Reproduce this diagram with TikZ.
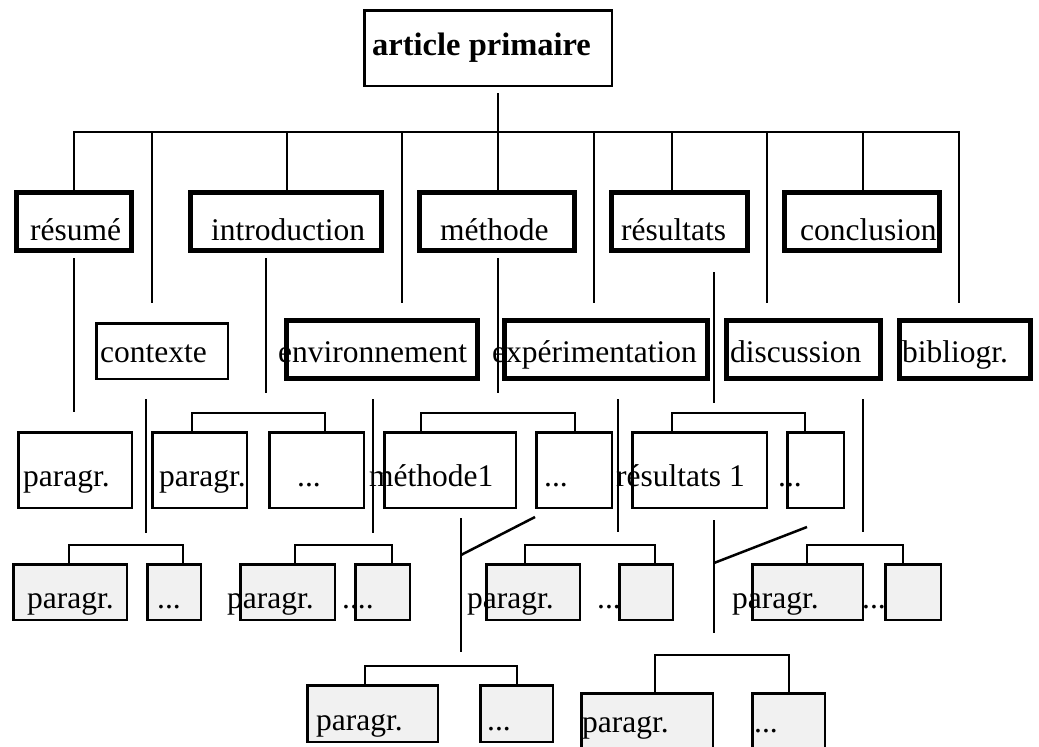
\documentclass[tikz,border=0pt]{standalone}
\usepackage{fontspec}
\setmainfont{Liberation Serif}
\definecolor{boxfill}{RGB}{241,241,241}
\tikzset{
  thinbox/.style={draw, line width=2.5pt, inner sep=0pt},
  thickbox/.style={draw, line width=5pt, inner sep=0pt},
  fillbox/.style={draw, line width=2.5pt, fill=boxfill, inner sep=0pt},
  lbl/.style={anchor=base west, inner sep=0pt, font=\fontsize{31.5}{36}\selectfont},
  titlelbl/.style={anchor=base west, inner sep=0pt, font=\fontsize{32.5}{38}\selectfont\bfseries},
  conn/.style={line width=2.5pt, line join=miter},
}
% box from outer edges: style, name, x1, y1, x2, y2, line width
\newcommand\mkbox[7]{%
  \pgfmathsetmacro\mybw{#5-#3-#7}%
  \pgfmathsetmacro\mybh{#6-#4-#7}%
  \node[#1, minimum width=\mybw pt, minimum height=\mybh pt] (#2) at ({(#3+#5)/2},{(#4+#6)/2}) {};
}
% bracket: x1, x2, bar y, bottom y
\newcommand\mkbracket[4]{\draw[conn] (#1,#4) -- (#1,#3) -- (#2,#3) -- (#2,#4);}
\begin{document}
\begin{tikzpicture}[x=1pt,y=-1pt]
\useasboundingbox (0,0) rectangle (1039,747);
\clip (0,0) rectangle (1039,747);
\fill[white] (0,0) rectangle (1039,747);

% ---------- boxes ----------
\mkbox{thinbox}{top}{363}{9}{613}{87}{2.5}
% row 1
\mkbox{thickbox}{resume}{14}{190}{134}{253}{5}
\mkbox{thickbox}{intro}{188}{190}{384}{253}{5}
\mkbox{thickbox}{meth}{417}{190}{577}{253}{5}
\mkbox{thickbox}{resu}{609}{190}{750}{253}{5}
\mkbox{thickbox}{concl}{782}{190}{942}{253}{5}
% row 2
\mkbox{thinbox}{ctx}{95}{322}{229}{380}{2.5}
\mkbox{thickbox}{env}{284}{318}{480}{381}{5}
\mkbox{thickbox}{exp}{502}{318}{710}{381}{5}
\mkbox{thickbox}{disc}{724}{318}{883}{381}{5}
\mkbox{thickbox}{bib}{897}{318}{1033}{381}{5}
% row 3
\mkbox{thinbox}{pA}{17}{431}{133}{509}{2.5}
\mkbox{thinbox}{pB}{151}{431}{248}{509}{2.5}
\mkbox{thinbox}{dB}{268}{431}{365}{509}{2.5}
\mkbox{thinbox}{mA}{383}{431}{517}{509}{2.5}
\mkbox{thinbox}{dM}{535}{431}{613}{509}{2.5}
\mkbox{thinbox}{rA}{631}{431}{768}{509}{2.5}
\mkbox{thinbox}{dR}{786}{431}{845}{509}{2.5}
% row 4
\mkbox{fillbox}{q1}{12}{563}{128}{621}{2.5}
\mkbox{fillbox}{e1}{146}{563}{202}{621}{2.5}
\mkbox{fillbox}{q2}{239}{563}{336}{621}{2.5}
\mkbox{fillbox}{e2}{354}{563}{411}{621}{2.5}
\mkbox{fillbox}{q3}{485}{563}{581}{621}{2.5}
\mkbox{fillbox}{e3}{618}{563}{674}{621}{2.5}
\mkbox{fillbox}{q4}{751}{563}{864}{621}{2.5}
\mkbox{fillbox}{e4}{884}{563}{942}{621}{2.5}
% row 5
\mkbox{fillbox}{q5}{306}{684}{439}{743}{2.5}
\mkbox{fillbox}{e5}{479}{684}{554}{743}{2.5}
\mkbox{fillbox}{q6}{580}{692}{714}{770}{2.5}
\mkbox{fillbox}{e6}{751}{692}{826}{770}{2.5}

% ---------- connectors ----------
\coordinate (ts) at (498,93);
\draw[conn] (ts) -- (ts |- meth.north);
\coordinate (busL) at (74,132);
\coordinate (busR) at (959,132);
\coordinate (lev2) at (0,303);
\draw[conn] (resume.north) -- (busL) -- (busR) -- (busR |- lev2);
\foreach \x in {287,672,863}{
  \draw[conn] (\x,132) -- (\x,190);
}
\foreach \x in {152,402,594,767}{
  \draw[conn] (\x,132) -- (\x,303);
}
% row 1 downward stems
\draw[conn] (74,258) -- (74,412);
\draw[conn] (266,258) -- (266,393);
\draw[conn] (498,258) -- (498,393);
\draw[conn] (714,272) -- (714,403);
% row 2 downward stems
\draw[conn] (146,399) -- (146,533);
\draw[conn] (373,399) -- (373,533);
\draw[conn] (618,399) -- (618,532);
\draw[conn] (863,399) -- (863,532);
% row 3 brackets
\mkbracket{192}{325}{413}{431}
\mkbracket{421}{575}{413}{431}
\mkbracket{672}{805}{413}{431}
% row 4 brackets
\mkbracket{69}{183}{545}{563}
\mkbracket{295}{392}{545}{563}
\mkbracket{525}{655}{545}{563}
\mkbracket{807}{903}{545}{563}
% stems below méthode1 and résultats 1
\draw[conn] (461,518) -- (461,652);
\draw[conn] (461,555) -- (535,517);
\draw[conn] (714,520) -- (714,633);
\draw[conn] (714,563) -- (807,527);
% row 5 brackets
\mkbracket{365}{517}{666}{684}
\mkbracket{655}{789}{655}{692}

% ---------- labels ----------
\node[titlelbl] (l-top) at (372,55) {article primaire};
\node[lbl] (l-resume) at (30,240) {résumé};
\node[lbl] (l-intro) at (211,240) {introduction};
\node[lbl] (l-meth) at (440,240) {méthode};
\node[lbl] (l-resu) at (621,240) {résultats};
\node[lbl] (l-concl) at (800,240) {conclusion};
\node[lbl] (l-ctx) at (100,362) {contexte};
\node[lbl] (l-env) at (278,362) {environnement};
\node[lbl] (l-exp) at (492,362) {expérimentation};
\node[lbl] (l-disc) at (730,362) {discussion};
\node[lbl] (l-bib) at (902,362) {bibliogr.};
\node[lbl] (l-pA) at (23,486) {paragr.};
\node[lbl] (l-pB) at (159,486) {paragr.};
\node[lbl] (l-dB) at (297,486) {...};
\node[lbl] (l-mA) at (369,486) {méthode1};
\node[lbl] (l-dM) at (544,486) {...};
\node[lbl] (l-rA) at (616,486) {résultats 1};
\node[lbl] (l-dR) at (778,486) {...};
\node[lbl] (l-q1) at (27,608) {paragr.};
\node[lbl] (l-e1) at (157,608) {...};
\node[lbl] (l-q2) at (227,608) {paragr.};
\node[lbl] (l-e2) at (342,608) {....};
\node[lbl] (l-q3) at (467,608) {paragr.};
\node[lbl] (l-e3) at (597,608) {...};
\node[lbl] (l-q4) at (732,608) {paragr.};
\node[lbl] (l-e4) at (862,608) {...};
\node[lbl] (l-q5) at (316,730) {paragr.};
\node[lbl] (l-e5) at (487,730) {...};
\node[lbl] (l-q6) at (582,732) {paragr.};
\node[lbl] (l-e6) at (754,732) {...};
\end{tikzpicture}
\end{document}
